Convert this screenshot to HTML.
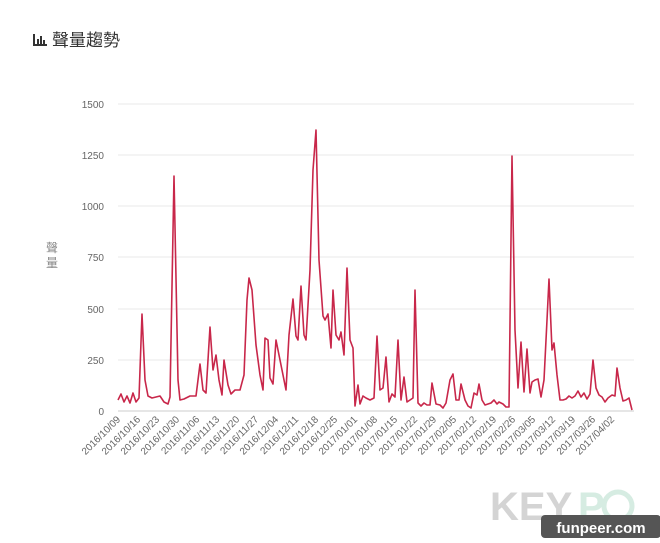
<!DOCTYPE html>
<html><head><meta charset="utf-8"><style>
body{margin:0;background:#fff;}
svg text{font-family:"Liberation Sans","Noto Sans CJK TC",sans-serif;}
</style></head><body>
<svg width="660" height="538" xmlns="http://www.w3.org/2000/svg">
<rect width="660" height="538" fill="#fff"/>
<g fill="#333"><rect x="33" y="34" width="2" height="12"/><rect x="33" y="44" width="14" height="2"/><rect x="37" y="39" width="2" height="5"/><rect x="40" y="36" width="2" height="8"/><rect x="43" y="40" width="2" height="4"/></g>
<text x="52" y="46" font-size="17" fill="#333">聲量趨勢</text>
<g stroke="#e8e8e8" stroke-width="1">
<line x1="118" x2="634" y1="104" y2="104"/><line x1="118" x2="634" y1="155" y2="155"/><line x1="118" x2="634" y1="206" y2="206"/><line x1="118" x2="634" y1="257" y2="257"/><line x1="118" x2="634" y1="309" y2="309"/><line x1="118" x2="634" y1="360" y2="360"/>
</g>
<line x1="118" x2="634" y1="411" y2="411" stroke="#ccc"/>
<g font-size="10" fill="#666" text-anchor="end">
<text x="104" y="108">1500</text><text x="104" y="159">1250</text><text x="104" y="210">1000</text><text x="104" y="261">750</text><text x="104" y="313">500</text><text x="104" y="364">250</text><text x="104" y="415">0</text>
</g>
<g font-size="12" fill="#888" text-anchor="middle"><text x="52" y="252">聲</text><text x="52" y="267">量</text></g>
<g font-size="10" fill="#666" text-anchor="end">
<text transform="translate(121,420) rotate(-45)">2016/10/09</text>
<text transform="translate(141,420) rotate(-45)">2016/10/16</text>
<text transform="translate(160,420) rotate(-45)">2016/10/23</text>
<text transform="translate(180,420) rotate(-45)">2016/10/30</text>
<text transform="translate(200,420) rotate(-45)">2016/11/06</text>
<text transform="translate(220,420) rotate(-45)">2016/11/13</text>
<text transform="translate(240,420) rotate(-45)">2016/11/20</text>
<text transform="translate(259,420) rotate(-45)">2016/11/27</text>
<text transform="translate(279,420) rotate(-45)">2016/12/04</text>
<text transform="translate(299,420) rotate(-45)">2016/12/11</text>
<text transform="translate(319,420) rotate(-45)">2016/12/18</text>
<text transform="translate(338,420) rotate(-45)">2016/12/25</text>
<text transform="translate(358,420) rotate(-45)">2017/01/01</text>
<text transform="translate(378,420) rotate(-45)">2017/01/08</text>
<text transform="translate(398,420) rotate(-45)">2017/01/15</text>
<text transform="translate(418,420) rotate(-45)">2017/01/22</text>
<text transform="translate(437,420) rotate(-45)">2017/01/29</text>
<text transform="translate(457,420) rotate(-45)">2017/02/05</text>
<text transform="translate(477,420) rotate(-45)">2017/02/12</text>
<text transform="translate(497,420) rotate(-45)">2017/02/19</text>
<text transform="translate(516,420) rotate(-45)">2017/02/26</text>
<text transform="translate(536,420) rotate(-45)">2017/03/05</text>
<text transform="translate(556,420) rotate(-45)">2017/03/12</text>
<text transform="translate(576,420) rotate(-45)">2017/03/19</text>
<text transform="translate(596,420) rotate(-45)">2017/03/26</text>
<text transform="translate(615,420) rotate(-45)">2017/04/02</text>
</g>
<polyline fill="none" stroke="#c8274a" stroke-width="1.6" stroke-linejoin="round" points="118,400 121,394 124,402 127,396 130,403 133,393 136,402 139,398 142,314 145,380 148,396 152,398 156,397 160,396 164,402 168,404 170,397 174,176 178,380 180,400 184,399 190,396 196,396 200,364 203,390 206,393 210,327 213,370 216,355 219,380 222,395 224,360 228,385 231,394 235,390 240,390 244,375 247,300 249,278 252,290 256,345 260,375 263,390 265,338 268,340 270,378 273,384 276,340 280,360 283,375 286,390 289,335 293,299 296,336 298,340 301,286 304,335 306,340 310,270 313,170 316,130 319,260 323,316 325,320 328,314 331,348 333,290 336,335 339,340 341,332 344,355 347,268 350,340 353,348 355,406 358,385 360,404 363,396 366,398 370,400 374,398 377,336 380,390 383,388 386,357 389,402 392,394 395,397 398,340 401,400 404,377 407,402 410,400 413,398 415,290 418,403 421,406 424,403 427,405 430,405 432,383 436,404 440,405 443,408 446,403 450,380 453,374 456,400 459,400 461,384 465,400 468,406 471,408 474,393 477,395 479,384 482,400 485,405 488,404 491,403 494,400 497,404 499,402 503,404 506,407 509,407 512,156 515,330 518,388 521,342 524,392 527,349 530,393 532,382 535,380 538,379 541,397 544,380 547,320 549,279 552,350 554,343 557,375 560,400 563,400 566,399 569,396 572,398 575,396 578,391 581,397 584,393 587,399 590,394 593,360 596,388 599,395 602,397 605,402 608,398 612,395 615,396 617,368 620,388 623,401 626,400 629,398 632,410"/>
<text x="490" y="520" font-size="40" font-weight="bold" fill="#d4d4d4">KEY</text>
<text x="578" y="520" font-size="40" font-weight="bold" fill="#d6ece2">P</text>
<circle cx="618" cy="506" r="14" fill="none" stroke="#d6ece2" stroke-width="5"/>
<rect x="541" y="515" width="120" height="23" rx="4" fill="#555"/>
<text x="601" y="533" font-size="15" font-weight="bold" fill="#fff" text-anchor="middle">funpeer.com</text>
</svg>
</body></html>
